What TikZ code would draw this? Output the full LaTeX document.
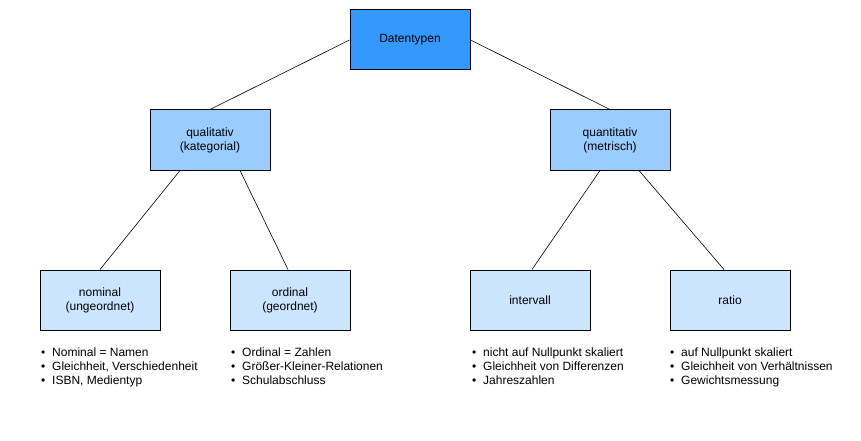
\documentclass[tikz,border=0pt]{standalone}
\usepackage{fontspec}
\setmainfont{Liberation Sans}
\usetikzlibrary{calc}
\definecolor{topblue}{HTML}{3399FF}
\definecolor{midblue}{HTML}{99CCFF}
\definecolor{lowblue}{HTML}{CCE5FF}
\tikzset{
  box/.style={draw=black, line width=1pt, minimum width=120pt, minimum height=60pt,
    inner sep=0pt, align=center, font=\fontsize{12}{14}\selectfont},
  topbox/.style={box, fill=topblue},
  midbox/.style={box, fill=midblue},
  lowbox/.style={box, fill=lowblue},
  link/.style={draw=black, line width=0.6pt},
  blist/.style={anchor=north west, inner sep=0pt, align=left,
    font=\fontsize{12}{14}\selectfont}
}
\newcommand{\bitem}[1]{\makebox[11pt][l]{\textbullet}#1}
\begin{document}
\begin{tikzpicture}[x=1pt,y=-1pt]
\useasboundingbox (0,0) rectangle (861,441);
\fill[white] (0,0) rectangle (861,441);

\node[topbox] (dt) at (410,40) {Datentypen};
\node[midbox] (ql) at (210,140) {qualitativ\\(kategorial)};
\node[midbox] (qn) at (610,140) {quantitativ\\(metrisch)};
\node[lowbox] (nom) at (100,300) {nominal\\(ungeordnet)};
\node[lowbox] (ord) at (290,300) {ordinal\\(geordnet)};
\node[lowbox] (int) at (530,300) {intervall};
\node[lowbox] (rat) at (730,300) {ratio};

\draw[link] (dt.west) -- (ql.north);
\draw[link] (dt.east) -- (qn.north);
\draw[link] ($(ql.south)+(-30,0)$) -- (nom.north);
\draw[link] ($(ql.south)+(30,0)$) -- ($(ord.north)+(-2,0)$);
\draw[link] ($(qn.south)+(-10,0)$) -- ($(int.north)+(2,0)$);
\draw[link] ($(qn.south)+(29,0)$) -- ($(rat.north)+(-6,0)$);

\node[blist] (lnom) at (41,347.5) {\bitem{Nominal = Namen}\\\bitem{Gleichheit, Verschiedenheit}\\\bitem{ISBN, Medientyp}};
\node[blist] (lord) at (231,347.5) {\bitem{Ordinal = Zahlen}\\\bitem{Größer-Kleiner-Relationen}\\\bitem{Schulabschluss}};
\node[blist] (lint) at (472,347.5) {\bitem{nicht auf Nullpunkt skaliert}\\\bitem{Gleichheit von Differenzen}\\\bitem{Jahreszahlen}};
\node[blist] (lrat) at (670,347.5) {\bitem{auf Nullpunkt skaliert}\\\bitem{Gleichheit von Verhältnissen}\\\bitem{Gewichtsmessung}};
\end{tikzpicture}
\end{document}
